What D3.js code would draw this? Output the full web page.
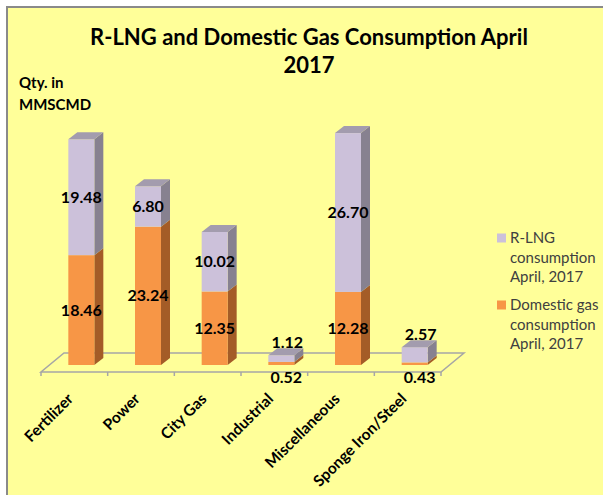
<!DOCTYPE html>
<meta charset="utf-8">
<style>
body { margin: 0; background: #fff; }
text { font-family: Lato, "Open Sans", Arial, sans-serif; }
.lbl { font-weight: bold; font-size: 16px; fill: #000; }
.cat { font-weight: bold; font-size: 15.5px; fill: #000; }
.leg { font-size: 15px; fill: #404040; }
</style>
<svg width="603" height="495"></svg>
<script src="https://cdn.jsdelivr.net/npm/d3@7"></script>
<script>

var categories = ["Fertilizer", "Power", "City Gas", "Industrial", "Miscellaneous", "Sponge Iron/Steel"];
var domestic = [18.46, 23.24, 12.35, 0.52, 12.28, 0.43];
var rlng = [19.48, 6.80, 10.02, 1.12, 26.70, 2.57];
var seriesNames = ["R-LNG consumption April, 2017", "Domestic gas consumption April, 2017"];

var svg = d3.select("svg");

// chart area
svg.append("rect")
    .attr("x", 7).attr("y", 7)
    .attr("width", 640).attr("height", 520)
    .attr("fill", "#FFFF99")
    .attr("stroke", "#8a8a8a")
    .attr("stroke-width", 2);

var x = d3.scaleBand().domain(categories).range([41, 441]);
var y = d3.scaleLinear().domain([0, 40]).range([365, 127]);

var barW = 26, dx = 9, dy = -7;          // bar depth
var fdx = 23, fdy = -19;                 // floor depth
var floorY = y(0) + 7;

// floor
var x0 = x.range()[0], x1 = x.range()[1];
svg.append("path")
    .attr("d", "M" + x0 + "," + floorY + "L" + x1 + "," + floorY +
        "L" + (x1 + fdx) + "," + (floorY + fdy) + "L" + (x0 + fdx) + "," + (floorY + fdy) + "Z")
    .attr("fill", "none")
    .attr("stroke", "#a6a6a6")
    .attr("stroke-width", 1.5);

var ticks = categories.map(function(c) { return x(c); }).concat([x1]);
svg.selectAll(".tick").data(ticks).enter().append("line")
    .attr("x1", function(d) { return d; }).attr("x2", function(d) { return d; })
    .attr("y1", floorY).attr("y2", floorY + 4)
    .attr("stroke", "#a6a6a6").attr("stroke-width", 1.5);

function box(g, cx, v0, v1, front, side, top) {
    var l = cx - barW / 2, r = cx + barW / 2;
    var yb = y(v0), yt = y(v1);
    g.append("path")
        .attr("d", "M" + r + "," + yb + "L" + (r + dx) + "," + (yb + dy) +
            "L" + (r + dx) + "," + (yt + dy) + "L" + r + "," + yt + "Z")
        .attr("fill", side);
    g.append("rect")
        .attr("x", l).attr("y", yt)
        .attr("width", barW).attr("height", yb - yt)
        .attr("fill", front);
    if (top) {
        g.append("path")
            .attr("d", "M" + l + "," + yt + "L" + r + "," + yt +
                "L" + (r + dx) + "," + (yt + dy) + "L" + (l + dx) + "," + (yt + dy) + "Z")
            .attr("fill", top);
    }
}

var bars = svg.append("g");
categories.forEach(function(c, i) {
    var cx = x(c) + x.bandwidth() / 2 + 7;
    var g = bars.append("g");
    box(g, cx, 0, domestic[i], "#F79646", "#A45C27", null);
    box(g, cx, domestic[i], domestic[i] + rlng[i], "#CCC1DA", "#878190", "#A39CAE");

    // labels
    var hD = y(0) - y(domestic[i]);
    var hR = y(domestic[i]) - y(domestic[i] + rlng[i]);
    if (hD > 20) {
        g.append("text").attr("class", "lbl")
            .attr("x", cx).attr("y", (y(0) + y(domestic[i])) / 2)
            .attr("dy", "0.35em").attr("text-anchor", "middle")
            .text(domestic[i].toFixed(2));
    } else {
        g.append("text").attr("class", "lbl")
            .attr("x", cx + 5).attr("y", y(0) + 12)
            .attr("dy", "0.35em").attr("text-anchor", "middle")
            .text(domestic[i].toFixed(2));
    }
    if (hR > 20) {
        g.append("text").attr("class", "lbl")
            .attr("x", cx).attr("y", (y(domestic[i]) + y(domestic[i] + rlng[i])) / 2)
            .attr("dy", "0.35em").attr("text-anchor", "middle")
            .text(rlng[i].toFixed(2));
    } else {
        g.append("text").attr("class", "lbl")
            .attr("x", cx + 6).attr("y", y(domestic[i] + rlng[i]) - 13)
            .attr("dy", "0.35em").attr("text-anchor", "middle")
            .text(rlng[i].toFixed(2));
    }
});

// category labels
svg.selectAll(".cat").data(categories).enter().append("text")
    .attr("class", "cat")
    .attr("text-anchor", "end")
    .attr("transform", function(d) {
        return "translate(" + (x(d) + x.bandwidth() / 2 - 4) + "," + (floorY + 24) + ") rotate(-45)";
    })
    .attr("dy", "0.35em")
    .text(function(d) { return d; });

// title
var title = svg.append("text")
    .attr("text-anchor", "middle")
    .style("font-weight", "bold").style("font-size", "22px").attr("fill", "#000");
title.append("tspan").attr("x", 309).attr("y", 45).text("R-LNG and Domestic Gas Consumption April");
title.append("tspan").attr("x", 309).attr("y", 73).text("2017");

// axis title
var yt = svg.append("text")
    .style("font-weight", "bold").style("font-size", "15px").attr("fill", "#000");
yt.append("tspan").attr("x", 19).attr("y", 88).text("Qty. in");
yt.append("tspan").attr("x", 19).attr("y", 110).text("MMSCMD");

// legend
var legColors = ["#CCC1DA", "#F79646"];
var legLines = [["R-LNG", "consumption", "April, 2017"], ["Domestic gas", "consumption", "April, 2017"]];
var leg = svg.append("g");
seriesNames.forEach(function(s, i) {
    var y0 = 238 + i * 67;
    leg.append("rect")
        .attr("x", 497).attr("y", y0 - 4.5)
        .attr("width", 9).attr("height", 9)
        .attr("fill", legColors[i]);
    var t = leg.append("text").attr("class", "leg");
    legLines[i].forEach(function(line, j) {
        t.append("tspan").attr("x", 510).attr("y", y0 + j * 19.5).attr("dy", "0.35em").text(line);
    });
});

</script>
